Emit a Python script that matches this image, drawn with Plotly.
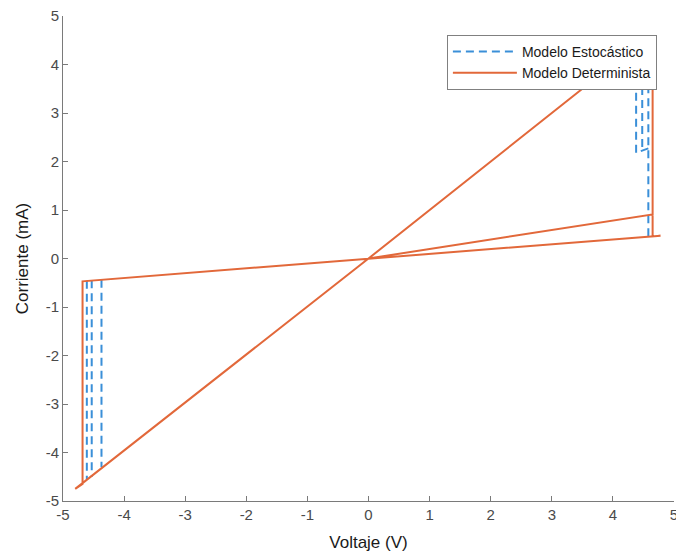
import plotly.graph_objects as go

# Deterministic model path (V, mA)
det_v = [0.0, 4.65, 4.65, 4.45, 0.0, -4.80, -4.68, -4.68, 4.78, 4.65, 4.65]
det_i = [0.0, 0.91, 4.45, 4.45, 0.0, -4.75, -4.65, -0.47, 0.47, 0.455, 4.45]

# Stochastic model segments (V, mA), None separates segments
sto_v = [4.58, 4.58, None, 4.58, 4.38, 4.38, None, 4.48, 4.48, None,
         -4.61, -4.61, None, -4.53, -4.53, None, -4.37, -4.37]
sto_i = [0.46, 4.40, None, 2.27, 2.18, 4.30, None, 2.30, 4.40, None,
         -0.46, -4.55, None, -0.45, -4.50, None, -0.44, -4.30]

tick_vals = [-5, -4, -3, -2, -1, 0, 1, 2, 3, 4, 5]
tick_text = ["-5", "-4", "-3", "-2", "-1", "0", "1", "2", "3", "4", "5"]

fig = go.Figure()
fig.add_trace(go.Scatter(
    x=sto_v, y=sto_i, mode="lines", name="Modelo Estocástico",
    line=dict(color="#3A8FD8", width=2, dash="8px,5px"), connectgaps=False))
fig.add_trace(go.Scatter(
    x=det_v, y=det_i, mode="lines", name="Modelo Determinista",
    line=dict(color="#E2683A", width=2)))

axis_common = dict(
    showgrid=False, zeroline=False, showline=True, linecolor="#7a7a7a",
    linewidth=1, ticks="inside", ticklen=5, tickcolor="#7a7a7a",
    tickfont=dict(family="Liberation Sans, Arial", size=15, color="#4a4a4a"),
    mirror=False, automargin=False, ticklabeloverflow="allow")

fig.update_layout(
    width=676, height=558,
    margin=dict(l=63, r=2, t=16, b=57),
    paper_bgcolor="white", plot_bgcolor="white",
    xaxis=dict(range=[-5, 5], tickvals=tick_vals, ticktext=tick_text, **axis_common,
               title=dict(text="Voltaje (V)", standoff=14,
                          font=dict(family="Liberation Sans, Arial", size=17, color="#1a1a1a"))),
    yaxis=dict(range=[-5, 5], tickvals=tick_vals, ticktext=tick_text, **axis_common,
               title=dict(text="Corriente (mA)", standoff=12,
                          font=dict(family="Liberation Sans, Arial", size=17, color="#1a1a1a"))),
    legend=dict(x=0.972, y=0.961, xanchor="right", yanchor="top",
                bgcolor="white", bordercolor="#808080", borderwidth=1,
                font=dict(family="Liberation Sans, Arial", size=14, color="#1a1a1a"),
                tracegroupgap=0, itemwidth=64),
    showlegend=True,
)

fig.write_html("out.html", config={"displayModeBar": False},
               post_script="document.body.style.margin='0px';document.body.style.padding='0px';")
